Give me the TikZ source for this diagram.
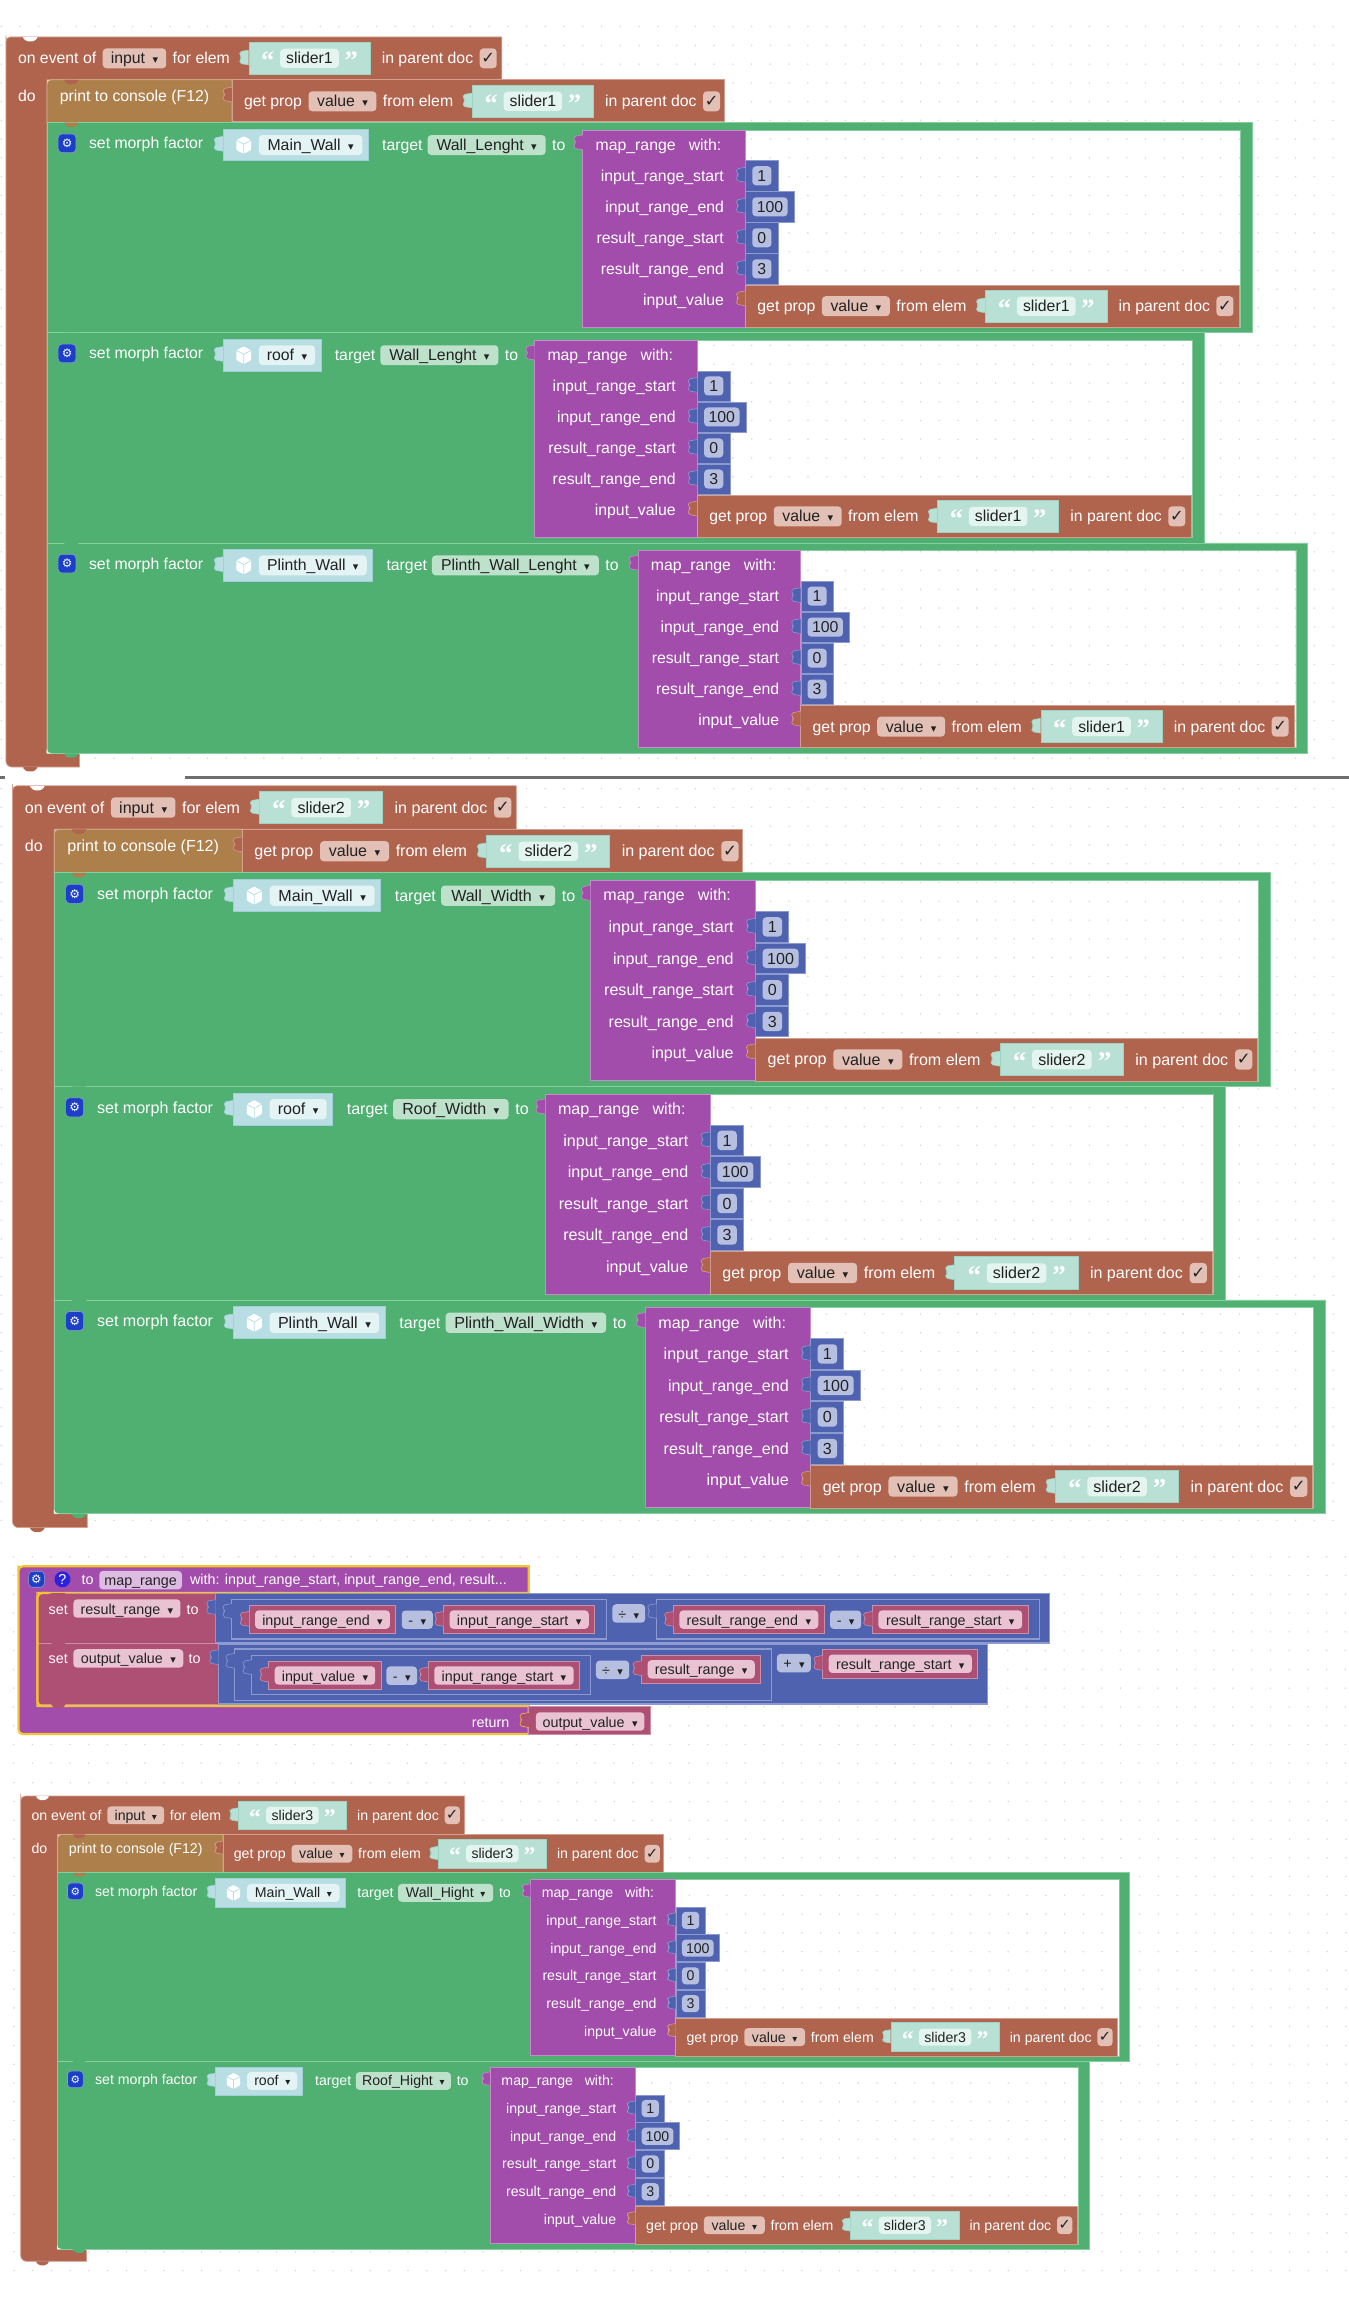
\documentclass[tikz,border=0pt]{standalone}
\usepackage{fontspec}
\setmainfont{Liberation Sans}
\newfontfamily\symfont{DejaVu Sans}
\newfontfamily\quotefont{Liberation Serif}
\usetikzlibrary{positioning}
\definecolor{evtc}{HTML}{B0634D}
\definecolor{evtl}{HTML}{D39F8F}
\definecolor{evtf}{HTML}{E3C0B5}
\definecolor{prtc}{HTML}{AD7F4B}
\definecolor{prtl}{HTML}{CFAE85}
\definecolor{grnc}{HTML}{4FB071}
\definecolor{grnl}{HTML}{86CDA0}
\definecolor{grnf}{HTML}{BEE1CB}
\definecolor{purc}{HTML}{A24CAB}
\definecolor{purl}{HTML}{C48CCB}
\definecolor{purf}{HTML}{DDBCE2}
\definecolor{bluc}{HTML}{4F62B0}
\definecolor{blul}{HTML}{8C9AD0}
\definecolor{bluf}{HTML}{B6BFE0}
\definecolor{crmc}{HTML}{AE4F74}
\definecolor{crml}{HTML}{CC8FA8}
\definecolor{crmf}{HTML}{E9C3D2}
\definecolor{tealc}{HTML}{B8E0D4}
\definecolor{teall}{HTML}{9CD3C3}
\definecolor{tealf}{HTML}{E4F4EF}
\definecolor{modc}{HTML}{B8DEE3}
\definecolor{modl}{HTML}{9FD0D7}
\definecolor{modf}{HTML}{E4F3F4}
\definecolor{darkc}{HTML}{222222}
\definecolor{gearc}{HTML}{1B3FC9}
\definecolor{helpc}{HTML}{2A22DD}
\definecolor{selc}{HTML}{F4C430}
\definecolor{barc}{HTML}{6E6E6E}
\definecolor{dotc}{HTML}{D8D8D8}
\newcommand{\bigf}{\fontsize{10.7}{12}\selectfont}
\newcommand{\smallf}{\fontsize{9.7}{11}\selectfont}
\newcommand{\dd}{\hspace{5pt}{\symfont\fontsize{7.5}{7.5}\selectfont ▾}}
\tikzstyle{lbl} = [inner sep=0pt, text=white, font=\bigf, text height=10pt, text depth=2.5pt]
\tikzstyle{fld} = [rectangle, rounded corners=2.5pt, inner sep=0pt, text=darkc, font=\bigf, text height=10pt, text depth=2.5pt, minimum height=13.5pt]
\tikzstyle{evtblk} = [fill=evtc, draw=evtl, line width=.5pt]
\tikzstyle{prtblk} = [fill=prtc, draw=prtl, line width=.5pt]
\tikzstyle{grnblk} = [fill=grnc, draw=grnl, line width=.5pt]
\tikzstyle{purblk} = [fill=purc, draw=purl, line width=.5pt]
\tikzstyle{numblk} = [rectangle, inner sep=0pt, fill=bluc, draw=blul, line width=.4pt, minimum height=20.4pt]
\tikzstyle{tealblk} = [rectangle, inner sep=0pt, fill=tealc, draw=teall, line width=.5pt, minimum width=82pt, minimum height=21.6pt]
\tikzstyle{modblk} = [rectangle, inner sep=0pt, fill=modc, draw=modl, line width=.5pt, minimum height=21.2pt]
\tikzstyle{crmblk} = [fill=crmc, draw=crml, line width=.5pt]
\tikzstyle{nestblk} = [fill=bluc, draw=blul, line width=.8pt]
\tikzstyle{quot} = [inner sep=0pt, text=white, font=\quotefont\bfseries\fontsize{18}{18}\selectfont]
\tikzstyle{gearbtn} = [rectangle, rounded corners=2.5pt, inner sep=0pt, fill=gearc, draw=blul, line width=.4pt, minimum width=12pt, minimum height=12.6pt, text=white, font=\symfont\fontsize{8}{8}\selectfont]
\tikzstyle{checkbx} = [rectangle, rounded corners=2.5pt, inner sep=0pt, fill=evtf, text=darkc, minimum width=11.5pt, minimum height=13.5pt, font=\symfont\fontsize{11}{11}\selectfont]
\tikzstyle{dotrow} = [dotc, line width=1.2pt, line cap=round, dash pattern=on 0pt off 12.7pt]
% puzzle tabs
\newcommand{\lefttab}[3]{\draw[fill=#2, draw=#3, line width=.4pt, rounded corners=1.2pt] (#1) -- ++(-6,1) -- ++(0,2.5) -- ++(1.5,1.5) -- ++(-1.5,1.5) -- ++(0,2.5) -- ++(6,1);}
\newcommand{\downtab}[3]{\fill[#3, rounded corners=1pt] (#1,#2) -- ++(3,3) -- ++(5,0) -- ++(3,-3) -- cycle;}
\newcommand{\dotgrid}[3]{\foreach \dy in {0,...,#3} {\draw[dotrow] (#1,{#2+12.7*\dy}) -- (913,{#2+12.7*\dy});}}
% label, drop down, slider text block, label, check box
\newcommand{\proprow}[8]{
    \node (#1a) [lbl, anchor=west] at (#2+8,#3) {#4};
    \node (#1b) [fld, fill=evtf, minimum width=#6pt, right=4pt of #1a] {#5\dd};
    \node (#1c) [lbl, right=4pt of #1b] {#7};
    \node (#1t) [tealblk, right=12.5pt of #1c] {};
    \lefttab{[yshift=-5.5pt]#1t.north west}{tealc}{teall}
    \node (#1f) [fld, fill=tealf, minimum width=39.7pt, minimum height=13pt] at (#1t.center) {#8};
    \node (#1q) [quot, left=3.5pt of #1f, yshift=-1.5pt] {“};
    \node (#1u) [quot, right=3.5pt of #1f, yshift=-1.5pt] {”};
    \node (#1d) [lbl, right=7.5pt of #1t] {in parent doc};
    \node (#1e) [checkbx, right=4pt of #1d] {✓};
}
% event block with its arm, the print block and the value it prints
\newcommand{\eventblock}[3]{
    \draw[evtblk] (0,3) [rounded corners=3pt] -- (0,0) [sharp corners] -- (335.7,0) -- (335.7,29) -- (27.8,29) -- (27.8,#3) -- (49.8,#3) -- (49.8,#3+9.3) [rounded corners=4pt] -- (0,#3+9.3) -- cycle;
    \downtab{11}{0}{white}
    \downtab{11}{#3+9.3}{evtc}
    \proprow{#1h}{0}{14.5}{on event of}{input}{43}{for elem}{#2}
    \node (#1do) [lbl, anchor=west] at (8,40) {do};
    \draw[prtblk] (27.8,32) [rounded corners=3pt] -- (27.8,29) [sharp corners] -- (153,29) -- (153,58) -- (27.8,58) -- cycle;
    \node (#1pr) [lbl, anchor=west] at (36.3,40) {print to console (F12)};
    \downtab{38.8}{29}{evtc}
    \draw[evtblk] (153,29) rectangle (486.5,57.5);
    \lefttab{153,34}{evtc}{evtl}
    \proprow{#1p}{153}{43.6}{get prop}{value}{46}{from elem}{#2}
}
\newcommand{\eventfoot}[1]{
    \fill[white] (27.5,#1-3) .. controls (27.5,#1-1) and (29,#1) .. (31,#1) -- (27.5,#1) -- cycle;
    \downtab{38.8}{#1}{grnc}
}
% morph block: prefix, y, x of map_range, model, width, target, width, slider, tab colour
\newcommand{\morphblock}[9]{
    \begin{scope}[shift={(0,#2)}]
    \draw[grnblk, even odd rule] (27.8,0) rectangle (#3+453.4,142.3) (#3+110,5) rectangle (#3+445.4,138.7);
    \downtab{38.8}{0}{#9}
    \node (#1g) [gearbtn] at (41.4,14) {⚙};
    \node (#1s) [lbl, right=8.5pt of #1g] {set morph factor};
    \node (#1b) [modblk, minimum width={(#5+28)*1pt}, anchor=west] at (147,15.2) {};
    \lefttab{[yshift=-5pt]#1b.north west}{modc}{modl}
    \node (#1f) [fld, fill=modf, minimum width=#5pt, anchor=east] at ([xshift=-4pt]#1b.east) {#4\dd};
    \path ([xshift=14pt]#1b.west) coordinate (#1c);
    \fill[white, rounded corners=.6pt] (#1c) ++(0,-6) -- ++(5,2.7) -- ++(0,6.6) -- ++(-5,2.7) -- ++(-5,-2.7) -- ++(0,-6.6) -- cycle;
    \draw[modc, line width=.5pt] (#1c) ++(-5,-3.3) -- ++(5,2.7) -- ++(5,-2.7) ++(-5,2.7) -- ++(0,6.6);
    \node (#1t) [lbl, right=9pt of #1b] {target};
    \node (#1v) [fld, fill=grnf, minimum width=#7pt, right=3pt of #1t] {#6\dd};
    \node (#1o) [lbl, right=4pt of #1v] {to};
    \draw[purblk] (#3,5) rectangle (#3+110,138.3);
    \lefttab{#3,8.4}{purc}{purl}
    \node (#1m) [lbl, anchor=west] at (#3+8.5,15) {map\_range};
    \node (#1w) [lbl, anchor=west] at (#3+71.5,15) {with:};
    \foreach \lab/\val/\wid [count=\i] in {input\_range\_start/1/22, input\_range\_end/100/33, result\_range\_start/0/22, result\_range\_end/3/22} {
        \node (#1r\i) [lbl, anchor=east] at (#3+95.7,15+21*\i) {\lab};
        \node (#1n\i) [numblk, minimum width=\wid pt, anchor=west] at (#3+110,15+21*\i) {};
        \lefttab{[yshift=-4.7pt]#1n\i.north west}{bluc}{blul}
        \node (#1k\i) [fld, fill=bluf, minimum width={(\wid-9)*1pt}, minimum height=12.9pt] at (#1n\i.center) {\val};
    }
    \node (#1i) [lbl, anchor=east] at (#3+95.7,120) {input\_value};
    \draw[evtblk] (#3+110,110) rectangle (#3+444.4,138.7);
    \lefttab{#3+110,114}{evtc}{evtl}
    \proprow{#1p}{#3+110}{124.3}{get prop}{value}{46}{from elem}{#8}
    \end{scope}
}
% variable field in a crimson block
\newcommand{\varblk}[6]{
    \draw[crmblk] (#2,#4) rectangle (#3,#5);
    \lefttab{#2,#4+4}{crmc}{crml}
    \node (#1) [fld, fill=crmf, font=\smallf, minimum width={(#3-#2-8)*1pt}, minimum height=12.3pt] at ({(#2+#3)/2},{(#4+#5)/2}) {#6\dd};
}
\newcommand{\opfld}[6]{\node (#1) [fld, fill=bluf, font=\smallf, minimum width={(#3-#2)*1pt}, minimum height=12.3pt] at ({(#2+#3)/2},{(#4+#5)/2}) {#6\dd};}
\newcommand{\nestbox}[4]{
    \draw[nestblk] (#1,#3) rectangle (#2,#4);
    \lefttab{#1,#3+3}{bluc}{blul}
}
\begin{document}
\begin{tikzpicture}[x=1pt,y=-1pt]
\useasboundingbox (0,0) rectangle (913,1568);
\dotgrid{0.9}{18}{39}
\dotgrid{0.9}{534}{39}
\dotgrid{9.2}{1054}{11}
\dotgrid{9.5}{1207}{26}
\draw[barc, line width=1.8pt] (0,526.4) -- (3.3,526.4);
\draw[barc, line width=1.8pt] (125,526.4) -- (913,526.4);

\begin{scope}[shift={(4,25)},transform shape]
    \eventblock{a}{slider1}{485}
    \morphblock{am}{58}{390.6}{Main\_Wall}{70}{Wall\_Lenght}{80}{slider1}{prtc}
    \morphblock{an}{200.3}{358}{roof}{38}{Wall\_Lenght}{80}{slider1}{grnc}
    \morphblock{ao}{342.6}{428}{Plinth\_Wall}{73}{Plinth\_Wall\_Lenght}{113}{slider1}{grnc}
    \eventfoot{485}
\end{scope}

\begin{scope}[shift={(8.5,532)},scale=1.016,transform shape]
    \eventblock{b}{slider2}{485}
    \morphblock{bm}{58}{385}{Main\_Wall}{70}{Wall\_Width}{76}{slider2}{prtc}
    \morphblock{bn}{200.3}{354.8}{roof}{38}{Roof\_Width}{77}{slider2}{grnc}
    \morphblock{bo}{342.6}{421.7}{Plinth\_Wall}{73}{Plinth\_Wall\_Width}{107}{slider2}{grnc}
    \eventfoot{485}
\end{scope}

% the function block
\draw[fill=purc, draw=selc, line width=1.5pt] (12.5,1063) [rounded corners=3pt] -- (12.5,1060.4) [sharp corners] -- (358,1060.4) -- (358,1078.5) -- (25.4,1078.5) -- (25.4,1155) -- (358,1155) -- (358,1174) [rounded corners=3pt] -- (12.5,1174) -- cycle;
\node (fgear) [gearbtn, minimum width=10.6pt, minimum height=10.8pt] at (24.7,1069.2) {⚙};
\node (fhelp) [circle, inner sep=0pt, fill=helpc, minimum size=10.8pt, text=white, font=\smallf] at (42.3,1069.2) {?};
\node (fto) [lbl, font=\smallf, anchor=west] at (55,1069.2) {to};
\node (fname) [fld, fill=purf, font=\smallf, minimum width=56pt, minimum height=12.3pt, anchor=west] at (67,1069.8) {map\_range};
\node (fwith) [lbl, font=\smallf, anchor=west] at (128.5,1069.2) {with: input\_range\_start, input\_range\_end, result...};

\draw[crmblk] (25.4,1078.5) rectangle (146,1112.3);
\downtab{34}{1078.5}{crmc}
\node (sa) [lbl, font=\smallf, anchor=west] at (32.8,1089) {set};
\node (sav) [fld, fill=crmf, font=\smallf, minimum width=72.5pt, minimum height=12.3pt, anchor=west] at (49.5,1089) {result\_range\dd};
\node (sat) [lbl, font=\smallf, right=3.7pt of sav] {to};
\draw[nestblk] (146,1079) rectangle (710.4,1112.3);
\lefttab{146,1083}{bluc}{blul}
\nestbox{157}{410.4}{1082.7}{1109.6}
\varblk{va}{168.7}{268}{1087}{1106}{input\_range\_end}
\opfld{oa}{272}{293}{1090.4}{1102.8}{-}
\varblk{vb}{300.4}{402.6}{1087}{1106}{input\_range\_start}
\opfld{ob}{414.6}{436.8}{1086.4}{1098.3}{÷}
\nestbox{444.6}{703.5}{1082.7}{1109.6}
\varblk{vc}{456}{558}{1087}{1106}{result\_range\_end}
\opfld{oc}{562}{583}{1090.4}{1102.8}{-}
\varblk{vd}{590.7}{696}{1087}{1106}{result\_range\_start}

\draw[crmblk] (25.4,1112.3) rectangle (148,1153.6);
\downtab{34}{1112.3}{crmc}
\node (sb) [lbl, font=\smallf, anchor=west] at (32.8,1122.8) {set};
\node (sbv) [fld, fill=crmf, font=\smallf, minimum width=74.4pt, minimum height=12.3pt, anchor=west] at (49.5,1122.8) {output\_value\dd};
\node (sbt) [lbl, font=\smallf, right=3.2pt of sbv] {to};
\draw[nestblk] (148,1113) rectangle (668.8,1153.6);
\lefttab{148,1117}{bluc}{blul}
\nestbox{159}{522.3}{1116.4}{1151}
\nestbox{170.5}{399.8}{1120.7}{1147.3}
\varblk{ve}{182}{258}{1124.7}{1144}{input\_value}
\opfld{od}{261.6}{282.4}{1128.4}{1140.6}{-}
\varblk{vf}{290}{392.4}{1124.7}{1144}{input\_range\_start}
\opfld{oe}{403.5}{426}{1124.3}{1136.7}{÷}
\varblk{vg}{434.5}{515}{1120.4}{1140}{result\_range}
\opfld{of}{526}{549}{1119.8}{1132}{+}
\varblk{vh}{557}{662}{1116.8}{1136}{result\_range\_start}

\draw[selc, line width=1.5pt, rounded corners=3pt] (33,1078.5) -- (25.4,1078.5) -- (25.4,1155) -- (33,1155);
\downtab{34}{1153.6}{crmc}
\node (fret) [lbl, font=\smallf, anchor=east] at (345,1165.6) {return};
\draw[crmblk] (358,1155.4) rectangle (440,1174);
\lefttab{358,1159.5}{crmc}{selc}
\node (fout) [fld, fill=crmf, font=\smallf, minimum width=73.5pt, minimum height=12.3pt] at (399.5,1165.5) {output\_value\dd};

\begin{scope}[shift={(14,1216)},scale=.895,transform shape]
    \eventblock{c}{slider3}{342.6}
    \morphblock{cm}{58}{385.5}{Main\_Wall}{70}{Wall\_Hight}{72}{slider3}{prtc}
    \morphblock{cn}{200.3}{355}{roof}{38}{Roof\_Hight}{72}{slider3}{grnc}
    \eventfoot{342.6}
\end{scope}
\end{tikzpicture}
\end{document}
